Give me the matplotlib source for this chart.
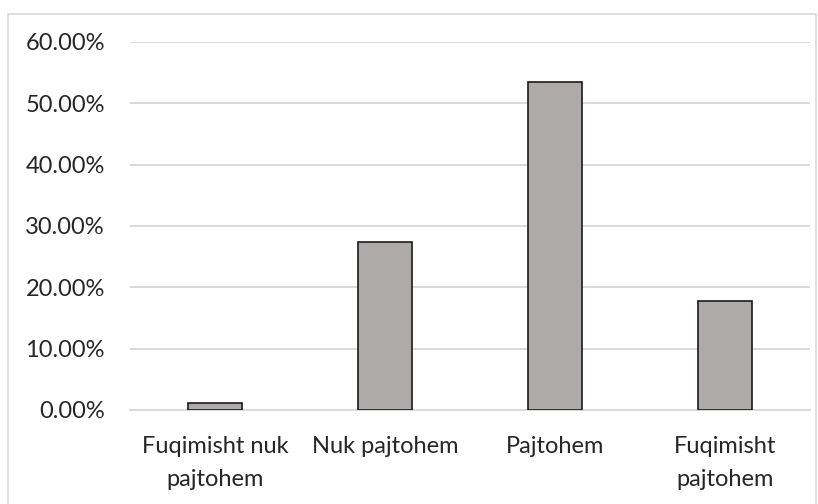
import matplotlib.pyplot as plt
from matplotlib.patches import Rectangle
from matplotlib.ticker import FuncFormatter

categories = ["Fuqimisht nuk\npajtohem", "Nuk pajtohem", "Pajtohem", "Fuqimisht\npajtohem"]
shares = [0.012, 0.274, 0.535, 0.178]
y_ticks = [0.0, 0.1, 0.2, 0.3, 0.4, 0.5, 0.6]

plt.rcParams['font.family'] = ['Lato', 'DejaVu Sans']
text_color = '#262626'
grid_color = '#d9d9d9'

fig = plt.figure(figsize=(8.18, 5.04), dpi=100)
ax = fig.add_axes([130 / 818, 94 / 504, 680 / 818, 368 / 504])

# chart frame
fig.patches.append(Rectangle((8 / 818, -0.05), 808 / 818, 1 - 14 / 504 + 0.05,
                             transform=fig.transFigure, fill=False,
                             edgecolor='#d9d9d9', linewidth=1.2))

x = range(len(categories))
ax.bar(x, shares, width=0.32, color='#aeaaaa', edgecolor='#1a1a1a', linewidth=1.2, zorder=3)

ax.set_xlim(-0.5, len(categories) - 0.5)
ax.set_ylim(0, 0.6)
ax.set_yticks(y_ticks)
ax.yaxis.set_major_formatter(FuncFormatter(lambda v, _: f"{v * 100:.2f}%"))
ax.set_xticks(list(x))
ax.set_xticklabels(categories, linespacing=1.7)

ax.grid(axis='y', color=grid_color, linewidth=1.4, zorder=0)
for side in ['top', 'right', 'left']:
    ax.spines[side].set_visible(False)
ax.spines['bottom'].set_color(grid_color)
ax.spines['bottom'].set_linewidth(1.4)

ax.tick_params(axis='both', length=0, labelsize=17, colors=text_color)
ax.tick_params(axis='y', pad=18)
ax.tick_params(axis='x', pad=19)

fig.savefig('out.png', dpi=100)
